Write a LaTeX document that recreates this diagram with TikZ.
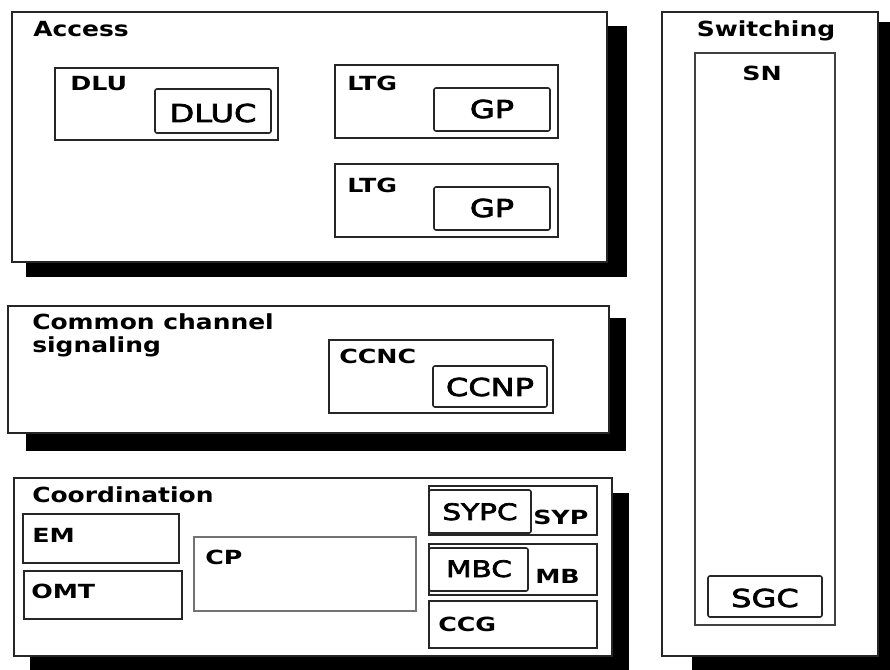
\documentclass[tikz,border=0pt]{standalone}
\usepackage{fontspec}
\setmainfont{DejaVu Sans}[FakeStretch=1.2]
\newfontfamily\bigfont{DejaVu Sans}[FakeStretch=1.3,FakeBold=3]
\newfontfamily\lblfont{DejaVu Sans Bold}[FakeStretch=1.3]
\begin{document}
\begin{tikzpicture}[x=0.75pt,y=-0.75pt,
  shadowbox/.style={fill=black,draw=none},
  groupbox/.style={draw=black!85,fill=white,line width=1.4pt},
  unitbox/.style={draw=black!85,fill=white,line width=1.3pt},
  ctrlbox/.style={draw=black!85,fill=white,line width=1.2pt,rounded corners=1.5pt},
  lightbox/.style={draw=black!55,fill=white,line width=1pt},
  title/.style={inner sep=0pt,anchor=base west,font=\bfseries\fontsize{15.6}{18}\selectfont},
  lbl/.style={inner sep=0pt,anchor=base west,font=\lblfont\fontsize{14.6}{17}\selectfont},
  big/.style={inner sep=0pt,anchor=base,font=\bigfont\fontsize{18.5}{22}\selectfont}]
\useasboundingbox[fill=white] (0,0) rectangle (890,670);

% ---------- Access ----------
\fill[shadowbox] (26,26) rectangle (627,277);
\path[groupbox] (12,12) rectangle (607,262);
\node[title] (access) at (33,37) {Access};
\path[unitbox] (55,68) rectangle (278,140);
\node[lbl] (dlu) at (70,91) {DLU};
\path[ctrlbox] (155,89) rectangle (271,133);
\node[big] (dluc) at (213,122) {DLUC};
\path[unitbox] (335,65) rectangle (558,138);
\node[lbl] (ltg1) at (347,91) {LTG};
\path[ctrlbox] (434,88) rectangle (550,131);
\node[big] (gp1) at (492,118) {GP};
\path[unitbox] (335,164) rectangle (558,237);
\node[lbl] (ltg2) at (347,193) {LTG};
\path[ctrlbox] (434,187) rectangle (550,230);
\node[big] (gp2) at (492,217) {GP};

% ---------- Common channel signaling ----------
\fill[shadowbox] (26,318) rectangle (626,451);
\path[groupbox] (8,306) rectangle (609,433);
\node[title] (ccs1) at (32,330) {Common channel};
\node[title] (ccs2) at (32,353) {signaling};
\path[unitbox] (329,340) rectangle (553,413);
\node[lbl] (ccnc) at (339,364) {CCNC};
\path[ctrlbox] (433,366) rectangle (547,407);
\node[big] (ccnp) at (490,396) {CCNP};

% ---------- Coordination ----------
\fill[shadowbox] (30,493) rectangle (629,670);
\path[groupbox] (14,478) rectangle (612,656);
\node[title] (coord) at (32,503) {Coordination};
\path[unitbox] (23,514) rectangle (179,563);
\node[lbl] (em) at (32,542) {EM};
\path[unitbox] (24,571) rectangle (182,619);
\node[lbl] (omt) at (31,599) {OMT};
\path[lightbox] (194,537) rectangle (416,611);
\node[lbl] (cp) at (205,565) {CP};
\path[unitbox] (429,486) rectangle (597,535);
\path[ctrlbox] (429,490) rectangle (531,533);
\node[big,font=\bigfont\fontsize{17}{20}\selectfont] (sypc) at (480,520) {SYPC};
\node[lbl] (syp) at (533,525) {SYP};
\path[unitbox] (429,544) rectangle (597,595);
\path[ctrlbox] (429,548) rectangle (528,591);
\node[big,font=\bigfont\fontsize{17}{20}\selectfont] (mbc) at (479,577) {MBC};
\node[lbl] (mb) at (535,583) {MB};
\path[unitbox] (429,601) rectangle (597,648);
\node[lbl] (ccg) at (438,631) {CCG};

% ---------- Switching ----------
\fill[shadowbox] (692,22) rectangle (890,670);
\path[groupbox] (662,12) rectangle (878,656);
\node[title,anchor=base] (switching) at (766,37) {Switching};
\path[lightbox,draw=black!75,line width=1.2pt] (695,53) rectangle (835,625);
\node[lbl,anchor=base] (sn) at (762,81) {SN};
\path[ctrlbox] (708,576) rectangle (822,617);
\node[big] (sgc) at (765,607) {SGC};
\end{tikzpicture}
\end{document}
